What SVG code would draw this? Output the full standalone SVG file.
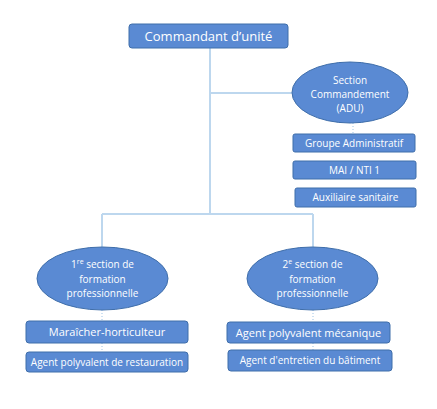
<svg xmlns="http://www.w3.org/2000/svg" width="437" height="409" viewBox="0 0 437 409">
<style>
.n{fill:#5a8ad3;stroke:#3f6eaa;stroke-width:1}
.t{fill:#fff;font-family:"Open Sans","Liberation Sans",sans-serif;font-size:10px;text-anchor:middle}
.c{fill:none;stroke:#bdd7ee;stroke-width:2}
.d{fill:none;stroke:#9dc3e6;stroke-width:1;stroke-dasharray:1 2}
</style>
<rect width="437" height="409" fill="#fff"/>
<g id="connectors">
<path class="c" d="M210 48V214M210 93H292M102 214H313M102 214V247M313 214V247"/>
<path class="d" d="M353 123V134M102 310V321M102 343V352M313 310V322M313 343V350"/>
</g>
<g id="commandant"><rect class="n" x="129" y="24" width="159" height="24" rx="3"/><text class="t" x="208.5" y="41" style="font-size:13px">Commandant d’unité</text></g>
<g id="section-commandement"><ellipse class="n" cx="350" cy="92.5" rx="58" ry="30.5"/><text class="t" x="350" y="84">Section</text><text class="t" x="350" y="98">Commandement</text><text class="t" x="350" y="112">(ADU)</text></g>
<g id="groupe-admin"><rect class="n" x="293" y="134" width="122" height="18" rx="2"/><text class="t" x="354" y="147">Groupe Administratif</text></g>
<g id="mai"><rect class="n" x="293" y="161" width="123" height="18" rx="2"/><text class="t" x="354.5" y="174">MAI / NTI 1</text></g>
<g id="auxiliaire"><rect class="n" x="295" y="188" width="121" height="19" rx="2"/><text class="t" x="355.5" y="201">Auxiliaire sanitaire</text></g>
<g id="section1"><ellipse class="n" cx="102.5" cy="278.5" rx="65.5" ry="31.5"/><text class="t" x="102.5" y="268">1<tspan dy="-4" font-size="7">re</tspan><tspan dy="4"> section de</tspan></text><text class="t" x="102.5" y="283">formation</text><text class="t" x="102.5" y="297">professionnelle</text></g>
<g id="maraicher"><rect class="n" x="26" y="321" width="162" height="22" rx="3"/><text class="t" x="107" y="336" style="font-size:11px">Maraîcher-horticulteur</text></g>
<g id="restauration"><rect class="n" x="26" y="352" width="162" height="20" rx="3"/><text class="t" x="107" y="366">Agent polyvalent de restauration</text></g>
<g id="section2"><ellipse class="n" cx="312.5" cy="278.5" rx="65.5" ry="31.5"/><text class="t" x="312.5" y="268">2<tspan dy="-4" font-size="7">e</tspan><tspan dy="4"> section de</tspan></text><text class="t" x="312.5" y="283">formation</text><text class="t" x="312.5" y="297">professionnelle</text></g>
<g id="mecanique"><rect class="n" x="227" y="322" width="163" height="21" rx="3"/><text class="t" x="308.5" y="337" style="font-size:11px">Agent polyvalent mécanique</text></g>
<g id="batiment"><rect class="n" x="228" y="350" width="164" height="21" rx="3"/><text class="t" x="310" y="364">Agent d'entretien du bâtiment</text></g>
</svg>
